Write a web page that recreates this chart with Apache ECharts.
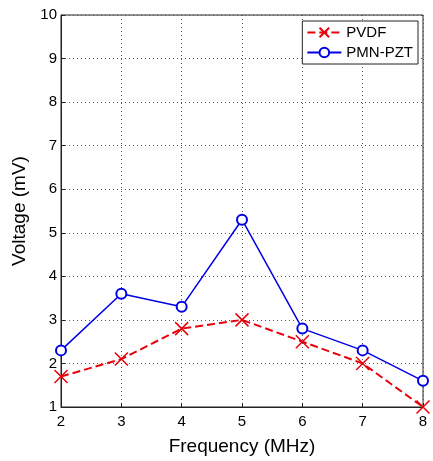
<!DOCTYPE html>
<html><head><meta charset="utf-8">
<script src="https://cdn.jsdelivr.net/npm/echarts@6/dist/echarts.min.js"></script>
<style>html,body{margin:0;padding:0;background:#fff}#c{width:433px;height:461px}</style>
</head><body><div id="c"></div>
<script>
const frequencies = [2, 3, 4, 5, 6, 7, 8];
const pvdf = [1.7, 2.1, 2.8, 3.0, 2.5, 2.0, 1.0];
const pmnPzt = [2.3, 3.6, 3.3, 5.3, 2.8, 2.3, 1.6];
const xTicks = [2, 3, 4, 5, 6, 7, 8];
const yTicks = [1, 2, 3, 4, 5, 6, 7, 8, 9, 10];

const font = 'Liberation Sans, Arial, sans-serif';
const chart = echarts.init(document.getElementById('c'));
const pair = (xs, ys) => xs.map((x, i) => [x, ys[i]]);
chart.setOption({
  animation: false,
  backgroundColor: '#fff',
  grid: { left: 61, right: 10, top: 15, bottom: 49, show: true, borderColor: '#222', borderWidth: 1, backgroundColor: 'transparent' },
  legend: {
    right: 15, top: 21, orient: 'vertical', itemWidth: 34, itemHeight: 12, itemGap: 5,
    padding: [4, 5, 4, 4],
    backgroundColor: '#fff', borderColor: '#222', borderWidth: 1,
    textStyle: { fontFamily: font, fontSize: 15, color: '#000' },
    data: ['PVDF', 'PMN-PZT']
  },
  xAxis: {
    type: 'value', min: xTicks[0], max: xTicks[xTicks.length - 1], interval: 1,
    name: 'Frequency (MHz)', nameLocation: 'middle', nameGap: 30,
    nameTextStyle: { fontFamily: font, fontSize: 19, color: '#000' },
    axisLine: { show: true, lineStyle: { color: '#222' } },
    axisTick: { inside: true, length: 4, lineStyle: { color: '#222' } },
    axisLabel: { fontFamily: font, fontSize: 15, color: '#000', margin: 7 },
    splitLine: { show: true, lineStyle: { color: '#555', type: [1, 3], width: 1 } }
  },
  yAxis: {
    type: 'value', min: yTicks[0], max: yTicks[yTicks.length - 1], interval: 1,
    name: 'Voltage (mV)', nameLocation: 'middle', nameGap: 28,
    nameTextStyle: { fontFamily: font, fontSize: 19, color: '#000' },
    axisLine: { show: true, lineStyle: { color: '#222' } },
    axisTick: { inside: true, length: 4, lineStyle: { color: '#222' } },
    axisLabel: { fontFamily: font, fontSize: 15, color: '#000', margin: 4 },
    splitLine: { show: true, lineStyle: { color: '#555', type: [1, 3], width: 1 } }
  },
  series: [
    {
      name: 'PVDF', type: 'line', data: pair(frequencies, pvdf),
      symbol: 'path://M0,0L10,10M10,0L0,10', symbolSize: 13,
      lineStyle: { color: '#e8000b', width: 2, type: [8, 4] },
      itemStyle: { color: 'rgba(0,0,0,0)', borderColor: '#e8000b', borderWidth: 1.5 }
    },
    {
      name: 'PMN-PZT', type: 'line', data: pair(frequencies, pmnPzt),
      symbol: 'emptyCircle', symbolSize: 10,
      lineStyle: { color: '#0000e6', width: 1.5 },
      itemStyle: { color: '#0000e6', borderColor: '#0000e6', borderWidth: 1.3 }
    }
  ]
});
</script></body></html>
